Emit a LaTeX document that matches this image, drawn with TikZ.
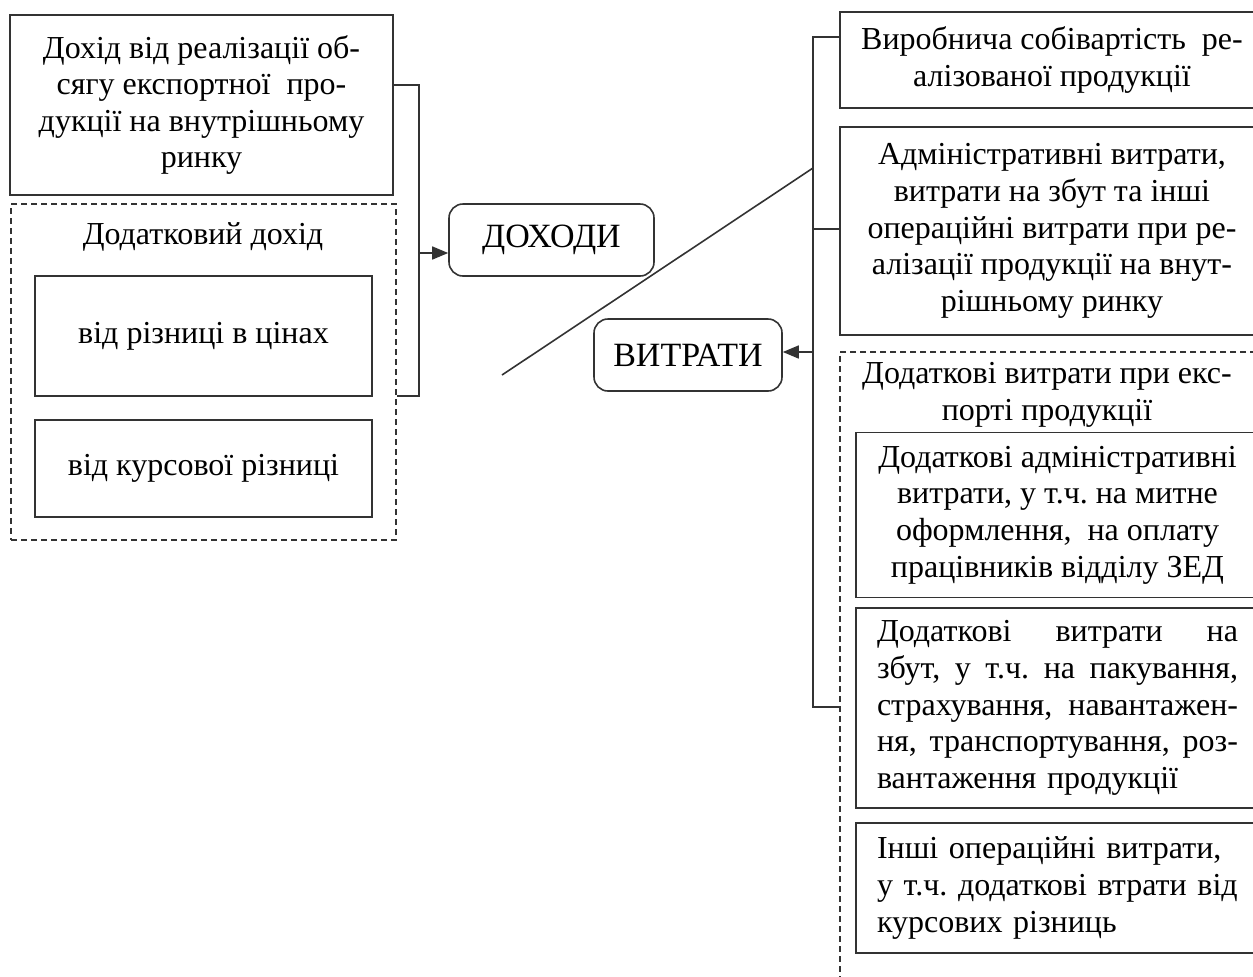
\documentclass[tikz,border=0pt]{standalone}
\usepackage{fontspec}
\setmainfont{Liberation Serif}
\usetikzlibrary{arrows.meta}
\newcommand{\jsp}{\hskip 0.25em plus 1fil\relax}
\newcommand{\jline}[1]{\leavevmode\hbox to 180.5pt{#1}}
\begin{document}
\begin{tikzpicture}[x=0.5pt,y=-0.5pt,
  ln/.style={line width=0.8pt, draw=black!80},
  txt/.style={font=\fontsize{16}{18.3}\selectfont\frenchspacing, text=black},
  box/.style={ln, txt, rectangle, inner sep=0pt, align=center},
  rbox/.style={box, rounded corners=7pt, font=\fontsize{17}{19}\selectfont},
  dbox/.style={draw=black!80, line width=0.7pt, dash pattern=on 3pt off 2pt, rectangle, inner sep=0pt},
  ttl/.style={txt, align=center, inner sep=0pt},
  arr/.style={ln, -{Triangle[length=8pt,width=6.5pt]}},
]
\useasboundingbox (0,0) rectangle (1253,976);

% ---------- left side ----------
\node[dbox, minimum width=192.5pt, minimum height=168pt] (dd) at (203.5,372) {};
\node[box, minimum width=191.5pt, minimum height=90pt] (d1) at (201.5,105)
  {Дохід від реалізації об-\\сягу експортної~ про-\\дукції на внутрішньому\\ринку};
\node[ttl] (ddt) at (203,237) {Додатковий дохід};
\node[box, minimum width=168.5pt, minimum height=60pt] (di1) at (203.5,336) {від різниці в цінах};
\node[box, minimum width=168.5pt, minimum height=48.5pt] (di2) at (203.5,468.5) {від курсової різниці};

\node[rbox, minimum width=102.5pt, minimum height=36pt] (doh) at (551.5,240) {ДОХОДИ};

\coordinate (j1) at (419,85);
\coordinate (j2) at (419,396);
\coordinate (ja) at (419,253);
\draw[ln] (j1 -| d1.east) -- (j1) -- (j2) -- (j2 -| dd.east);
\draw[arr] (ja) -- (ja -| doh.west);

% ---------- right side ----------
\node[rbox, minimum width=94pt, minimum height=36pt] (vyt) at (688,355) {ВИТРАТИ};

\node[box, minimum width=212pt, minimum height=48pt] (r1) at (1052,60)
  {Виробнича собівартість~ ре-\\алізованої продукції};
\node[box, minimum width=212pt, minimum height=104pt] (r2) at (1052,231)
  {Адміністративні витрати,\\витрати на збут та інші\\операційні витрати при ре-\\алізації продукції на внут-\\рішньому ринку};

\node[dbox, minimum width=212pt, minimum height=324pt] (rd) at (1052,676) {};
\node[ttl] (rdt) at (1047,395) {Додаткові витрати при екс-\\порті продукції};

\node[box, minimum width=201.5pt, minimum height=82.5pt] (ra) at (1057.5,515)
  {Додаткові адміністративні\\витрати, у т.ч. на митне\\оформлення,~ на оплату\\працівників відділу ЗЕД};
\node[box, minimum width=201.5pt, minimum height=100pt, text width=180.5pt, align=left] (rb) at (1057.5,708)
  {\jline{Додаткові\jsp витрати\jsp на}\\
   \jline{збут,\jsp у\jsp т.ч.\jsp на\jsp пакування,}\\
   \jline{страхування,\jsp навантажен-}\\
   \jline{ня,\jsp транспортування,\jsp роз-}\\
   вантаження продукції};
\node[box, minimum width=201.5pt, minimum height=65pt, text width=180.5pt, align=left] (rc) at (1057.5,888)
  {\mbox{Інші операційні витрати,}\\\mbox{у т.ч. додаткові втрати від}\\\mbox{курсових різниць}};

\coordinate (k1) at (813,37);
\coordinate (k2) at (813,229);
\coordinate (k3) at (813,707);
\coordinate (ka) at (813,352);
\coordinate (kd) at (813,168);
\coordinate (ld) at (502,375);
\draw[ln] (k1 -| r1.west) -- (k1) -- (k3) -- (k3 -| rd.west);
\draw[ln] (k2) -- (k2 -| r2.west);
\draw[arr] (ka) -- (ka -| vyt.east);
\draw[ln] (ld) -- (kd);
\end{tikzpicture}
\end{document}
